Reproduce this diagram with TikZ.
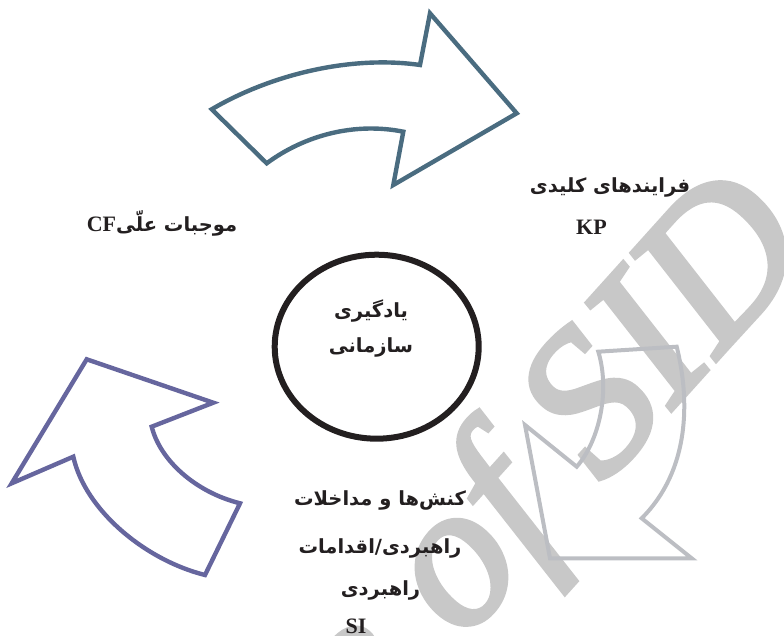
\documentclass[tikz,border=0pt]{standalone}
\usepackage{fontspec}
\usetikzlibrary{shapes.geometric}
\TeXXeTstate=1
\newfontfamily\fafont[Script=Arabic]{DejaVu Sans}
\newfontfamily\latfont{Liberation Serif}
\newfontfamily\wmfont[FakeBold=2.5]{Liberation Serif}
\definecolor{teal1}{RGB}{74,108,128}
\definecolor{purp1}{RGB}{102,102,158}
\definecolor{gray1}{RGB}{188,190,195}
\definecolor{wmgray}{RGB}{200,200,200}
\definecolor{ink}{RGB}{35,31,32}
\tikzset{
  fatext/.style={inner sep=0pt, anchor=base, text=ink, font=\fafont\bfseries\fontsize{19.5}{22}\selectfont},
  lattext/.style={inner sep=0pt, anchor=base, text=ink, font=\latfont\bfseries\fontsize{22}{26}\selectfont},
  wmtext/.style={inner sep=0pt, text=wmgray, font=\wmfont\itshape\fontsize{205}{205}\selectfont, rotate=48},
  blockarrow/.style={line width=4.4pt, line join=miter, miter limit=10},
}
\begin{document}
\begin{tikzpicture}[x=1pt,y=-1pt]
\useasboundingbox (0,0) rectangle (784,636);
% watermark
\begin{scope}
\clip (0,0) rectangle (784,636);
\node[wmtext, anchor=base west] (wm1) at (462.2,642.2) {of SID};
\node[wmtext, anchor=base east] (wm2) at (427.9,680.3) {Archive};
\end{scope}
% top arrow
\draw[blockarrow, draw=teal1] (211.7,109.3) -- (266.7,163.3)
  .. controls (305,135) and (355,122) .. (403.3,131.7)
  -- (393.3,185) -- (516.7,113.3) -- (430,13.3) -- (420,65)
  .. controls (350,55) and (270,75) .. (211.7,109.3) -- cycle;
% left arrow
\draw[blockarrow, draw=purp1] (11.7,483.3) -- (86.7,359.3) -- (213.3,402.7) -- (151.7,426.7)
  .. controls (160,460) and (195,492) .. (240,503.3)
  -- (205,575)
  .. controls (145,560) and (85,510) .. (73.3,456.7) -- cycle;
% right gray arrow
\draw[blockarrow, line width=4pt, draw=gray1] (598.3,351.7) -- (676.7,346.7)
  .. controls (690,400) and (690,470) .. (641.7,518.3)
  -- (691.7,558.3) -- (550,558.3) -- (525,425) -- (576.7,466.7)
  .. controls (600,440) and (610,390) .. (598.3,351.7) -- cycle;
% circle
\node[draw=ink, line width=6pt, ellipse, minimum width=204pt, minimum height=184pt, inner sep=0pt] (circ) at (376.7,346.7) {};
\node[fatext] (c1) at (371,317) {\beginR یادگیری\endR};
\node[fatext] (c2) at (371,352) {\beginR سازمانی\endR};
% labels
\node[fatext] (k1) at (610,193) {\beginR فرایندهای کلیدی\endR};
\node[lattext] (k2) at (591.5,235) {KP};
\node[fatext] (f1) at (162,232) {\beginR موجبات علّی\beginL{\latfont\bfseries\fontsize{22}{26}\selectfont CF}\endL\endR};
\node[fatext] (s1) at (380,505) {\beginR کنش‌ها و مداخلات\endR};
\node[fatext] (s2) at (380,553) {\beginR راهبردی/اقدامات\endR};
\node[fatext] (s3) at (380.5,595) {\beginR راهبردی\endR};
\node[lattext] (s4) at (356,633) {SI};
\end{tikzpicture}
\end{document}
